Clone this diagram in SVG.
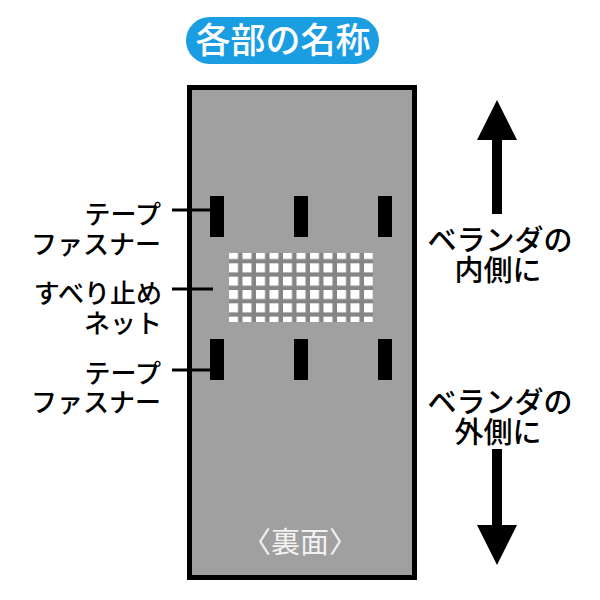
<svg xmlns="http://www.w3.org/2000/svg" width="600" height="600" viewBox="0 0 600 600">
  <defs>
    <style>
      .lbl { font-family: "Noto Sans CJK JP", "Noto Sans", sans-serif; font-size: 26px; font-weight: 500; fill: #000; text-anchor: end; }
      .side { font-family: "Noto Sans CJK JP", "Noto Sans", sans-serif; font-size: 29px; font-weight: 500; fill: #000; text-anchor: middle; }
      .fast { fill: #000; }
      .lead { stroke: #000; stroke-width: 3; fill: none; }
      .arrow { fill: #000; }
    </style>
    <pattern id="net" patternUnits="userSpaceOnUse" x="229" y="250" width="13.5" height="13.33">
      <rect x="0" y="0" width="9" height="9" fill="#ffffff"/>
    </pattern>
  </defs>
  <rect width="600" height="600" fill="#ffffff"/>

  <g id="title">
    <rect x="186" y="17" width="193" height="47" rx="23.5" fill="#1b9de2"/>
    <text x="283" y="53" text-anchor="middle" font-family="'Noto Sans CJK JP', 'Noto Sans', sans-serif" font-size="35" font-weight="500" fill="#ffffff">各部の名称</text>
  </g>

  <g id="panel">
    <rect x="189.5" y="87.5" width="225" height="490" fill="#a0a0a0" stroke="#000" stroke-width="5"/>
    <text x="300" y="553" text-anchor="middle" font-family="'Noto Sans CJK JP', 'Noto Sans', sans-serif" font-size="29" fill="#f2f2f2">〈裏面〉</text>
  </g>

  <g id="fasteners-top">
    <rect class="fast" x="210" y="196" width="14" height="41"/>
    <rect class="fast" x="294" y="196" width="14" height="41"/>
    <rect class="fast" x="378" y="196" width="14" height="41"/>
  </g>

  <g id="net-area">
    <rect x="229" y="253" width="144" height="69" fill="#858585"/>
    <rect x="229" y="253" width="144" height="69" fill="url(#net)"/>
  </g>

  <g id="fasteners-bottom">
    <rect class="fast" x="210" y="339" width="14" height="41"/>
    <rect class="fast" x="294" y="339" width="14" height="41"/>
    <rect class="fast" x="378" y="339" width="14" height="41"/>
  </g>

  <g id="label-tape-top">
    <text class="lbl"><tspan x="161" y="224">テープ</tspan><tspan x="161" y="254">ファスナー</tspan></text>
  </g>
  <g id="label-net">
    <text class="lbl"><tspan x="162" y="303">すべり止め</tspan><tspan x="162" y="333">ネット</tspan></text>
  </g>
  <g id="label-tape-bottom">
    <text class="lbl"><tspan x="161" y="383">テープ</tspan><tspan x="161" y="412">ファスナー</tspan></text>
  </g>

  <g id="label-inside">
    <text class="side"><tspan x="500" y="251">ベランダの</tspan><tspan x="498" y="281">内側に</tspan></text>
  </g>
  <g id="label-outside">
    <text class="side"><tspan x="500" y="413">ベランダの</tspan><tspan x="498" y="443">外側に</tspan></text>
  </g>

  <g id="connectors">
    <line class="lead" x1="172" y1="210" x2="210" y2="210"/>
    <line class="lead" x1="172" y1="289" x2="213" y2="289"/>
    <line class="lead" x1="172" y1="370" x2="210" y2="370"/>
    <g id="arrow-up">
      <rect class="arrow" x="492" y="138" width="10" height="76"/>
      <polygon class="arrow" points="497,100 517,140 477,140"/>
    </g>
    <g id="arrow-down">
      <rect class="arrow" x="492" y="449" width="10" height="78"/>
      <polygon class="arrow" points="477,525 517,525 497,565"/>
    </g>
  </g>
</svg>
